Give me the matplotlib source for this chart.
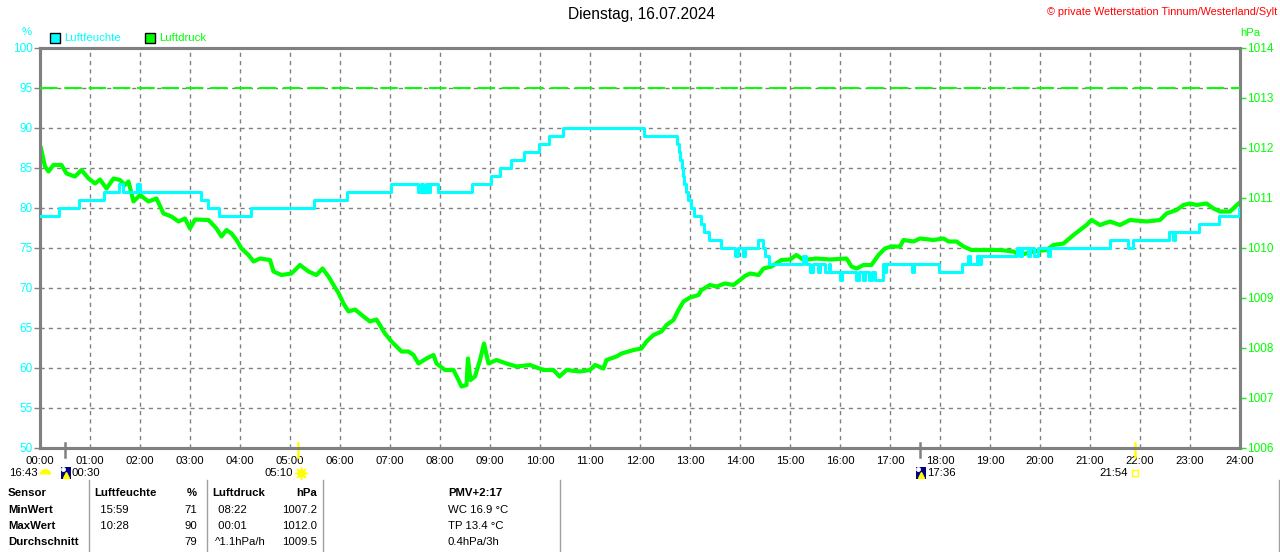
import matplotlib
matplotlib.use("Agg")
import matplotlib.pyplot as plt
import matplotlib.transforms as mtransforms
from matplotlib.lines import Line2D
from matplotlib.patches import Rectangle

plt.rcParams['font.family'] = ['Liberation Sans', 'DejaVu Sans']

# ---------------- data ----------------
title = "Dienstag, 16.07.2024"
copyright_text = "\u00a9 private Wetterstation Tinnum/Westerland/Sylt"
hours = list(range(25))
hour_labels = [f"{h:02d}:00" for h in hours]
hum_ticks = [50, 55, 60, 65, 70, 75, 80, 85, 90, 95, 100]
press_ticks = [1006, 1007, 1008, 1009, 1010, 1011, 1012, 1013, 1014]
alarm_level = 95

hum_t = [0.0, 0.38, 0.77, 1.27, 1.58, 1.66, 1.94, 2.0, 3.21, 3.35, 3.57, 4.22,
         5.47, 6.13, 7.02, 7.56, 7.62, 7.66, 7.72, 7.76, 7.80, 7.96, 8.63,
         9.03, 9.20, 9.41, 9.67, 9.97, 10.17, 10.45, 12.07, 12.74, 12.77,
         12.80, 12.83, 12.85, 12.88, 12.92, 12.96, 13.02, 13.08, 13.22, 13.28,
         13.38, 13.62, 13.90, 13.95, 14.05, 14.10, 14.35, 14.45, 14.50, 14.58,
         15.26, 15.32, 15.40, 15.45, 15.55, 15.60, 15.70, 15.78, 15.80, 16.00,
         16.04, 16.33, 16.37, 16.45, 16.50, 16.58, 16.63, 16.70, 16.85, 16.88,
         16.92, 17.07, 17.43, 17.48, 17.97, 18.43, 18.55, 18.60, 18.73, 18.78,
         18.83, 19.53, 19.60, 19.65, 19.75, 19.80, 19.88, 19.95, 20.15, 20.20,
         21.40, 21.75, 21.85, 22.57, 22.65, 22.70, 23.17, 23.57, 23.97, 24.0]
hum_v = [79, 80, 81, 82, 83, 82, 83, 82, 81, 80, 79, 80,
         81, 82, 83, 82, 83, 82, 83, 82, 83, 82, 83,
         84, 85, 86, 87, 88, 89, 90, 89, 88, 87,
         86, 85, 84, 83, 82, 81, 80, 79, 78, 77,
         76, 75, 74, 75, 74, 75, 76, 75, 74, 73,
         74, 73, 72, 73, 72, 73, 72, 73, 72, 71,
         72, 71, 72, 71, 72, 71, 72, 71, 73, 72,
         73, 73, 72, 73, 72, 73, 74, 73, 74, 73,
         74, 75, 74, 75, 74, 75, 74, 75, 74, 75,
         76, 75, 76, 77, 76, 77, 78, 79, 80, 80]

press_t = [0.02, 0.07, 0.10, 0.17, 0.27, 0.43, 0.53, 0.70, 0.83, 0.97, 1.10,
           1.20, 1.33, 1.47, 1.60, 1.70, 1.77, 1.87, 2.00, 2.17, 2.33, 2.47,
           2.63, 2.77, 2.90, 3.00, 3.10, 3.37, 3.53, 3.63, 3.73, 3.83, 3.93,
           4.03, 4.17, 4.27, 4.40, 4.60, 4.67, 4.83, 5.03, 5.20, 5.37, 5.53,
           5.65, 5.77, 5.87, 5.97, 6.07, 6.17, 6.30, 6.47, 6.60, 6.73, 6.90,
           7.03, 7.23, 7.37, 7.47, 7.57, 7.73, 7.87, 7.93, 8.10, 8.27, 8.37,
           8.43, 8.53, 8.56, 8.61, 8.70, 8.80, 8.88, 8.97, 9.13, 9.33, 9.53,
           9.80, 10.07, 10.27, 10.39, 10.53, 10.80, 11.00, 11.10, 11.27, 11.33,
           11.53, 11.63, 11.87, 12.03, 12.13, 12.27, 12.43, 12.53, 12.67, 12.77,
           12.87, 13.00, 13.17, 13.23, 13.40, 13.53, 13.70, 13.87, 14.00, 14.10,
           14.20, 14.37, 14.47, 14.63, 14.83, 15.00, 15.13, 15.27, 15.53, 15.80,
           16.13, 16.23, 16.33, 16.47, 16.63, 16.77, 16.90, 17.03, 17.20, 17.27,
           17.47, 17.60, 17.87, 18.07, 18.17, 18.33, 18.47, 18.63, 18.93, 19.20,
           19.47, 19.60, 19.87, 20.13, 20.27, 20.47, 20.67, 20.80, 20.93, 21.03,
           21.20, 21.40, 21.60, 21.80, 22.13, 22.40, 22.53, 22.73, 22.87, 23.00,
           23.13, 23.33, 23.47, 23.60, 23.80, 23.97]
press_v = [1011.99, 1011.76, 1011.63, 1011.53, 1011.66, 1011.66, 1011.49, 1011.43,
           1011.56, 1011.39, 1011.29, 1011.37, 1011.19, 1011.39, 1011.36, 1011.26,
           1011.33, 1010.93, 1011.06, 1010.93, 1010.99, 1010.69, 1010.63, 1010.53,
           1010.59, 1010.39, 1010.57, 1010.56, 1010.39, 1010.23, 1010.36, 1010.29,
           1010.16, 1009.99, 1009.86, 1009.73, 1009.79, 1009.76, 1009.53, 1009.46,
           1009.49, 1009.66, 1009.53, 1009.46, 1009.59, 1009.43, 1009.26, 1009.10,
           1008.89, 1008.73, 1008.77, 1008.63, 1008.53, 1008.57, 1008.29, 1008.13,
           1007.93, 1007.93, 1007.86, 1007.69, 1007.79, 1007.86, 1007.69, 1007.56,
           1007.56, 1007.36, 1007.23, 1007.26, 1007.79, 1007.36, 1007.43, 1007.76,
           1008.09, 1007.69, 1007.76, 1007.69, 1007.63, 1007.66, 1007.56, 1007.56,
           1007.43, 1007.56, 1007.53, 1007.56, 1007.66, 1007.59, 1007.76, 1007.83,
           1007.89, 1007.96, 1007.99, 1008.13, 1008.26, 1008.33, 1008.46, 1008.56,
           1008.76, 1008.93, 1009.01, 1009.06, 1009.16, 1009.26, 1009.23, 1009.29,
           1009.26, 1009.36, 1009.44, 1009.49, 1009.46, 1009.59, 1009.63, 1009.76,
           1009.77, 1009.86, 1009.76, 1009.79, 1009.77, 1009.79, 1009.63, 1009.59,
           1009.66, 1009.66, 1009.86, 1009.99, 1010.03, 1010.03, 1010.16, 1010.13,
           1010.19, 1010.16, 1010.19, 1010.13, 1010.13, 1010.03, 1009.96, 1009.96,
           1009.96, 1009.93, 1009.86, 1009.93, 1009.96, 1010.06, 1010.09, 1010.26,
           1010.36, 1010.46, 1010.56, 1010.46, 1010.53, 1010.46, 1010.56, 1010.53,
           1010.56, 1010.69, 1010.76, 1010.86, 1010.89, 1010.86, 1010.89, 1010.79,
           1010.73, 1010.73, 1010.89]

# astronomical events below the axis
event_times = [0.5, 5.1667, 17.6, 21.9]
event_labels = ["00:30", "05:10", "17:36", "21:54"]
event_kinds = ["moon", "sunrise", "moon", "sunset"]
prev_label = "16:43"

# statistics table
row_labels = ["Sensor", "MinWert", "MaxWert", "Durchschnitt"]
hum_header = ["Luftfeuchte", "%"]
hum_times = ["  15:59", "  10:28", ""]
hum_vals = ["71", "90", "79"]
press_header = ["Luftdruck", "hPa"]
press_times = [" 08:22", " 00:01", "^1.1hPa/h"]
press_vals = ["1007.2", "1012.0", "1009.5"]
extra_header = "PMV+2:17"
extra_vals = ["WC 16.9 \u00b0C", "TP 13.4 \u00b0C", "0.4hPa/3h"]

# ---------------- styling ----------------
W, H = 1280, 552
CYAN = "#00FFFF"
GREEN = "#00FF00"
GRAY = "#808080"
FS = 8.2


def fx(px):
    return px / W


def fy(py):
    return 1 - py / H


fig = plt.figure(figsize=(W / 100, H / 100), dpi=100)
fig.patch.set_facecolor("white")
ax = fig.add_axes([fx(40), fy(448), 1200 / W, 400 / H])
ax2 = ax.twinx()
ax3 = ax.twinx()
ax.set_zorder(1)
ax2.set_zorder(2)
ax3.set_zorder(3)
ax2.patch.set_visible(False)
ax3.patch.set_visible(False)

ax.set_xlim(0, 24)
ax.set_ylim(50, 100)
ax2.set_ylim(1006, 1014)
ax3.set_ylim(50, 100)

ax.set_xticks(hours)
ax.set_xticklabels(hour_labels)
ax.set_yticks(hum_ticks)
ax.set_yticklabels([str(v) for v in hum_ticks])
ax2.set_yticks(press_ticks)
ax2.set_yticklabels([str(v) for v in press_ticks])
ax3.axis("off")

ax.grid(True, color=GRAY, linestyle=(0, (3, 3)), linewidth=1.0)
ax.tick_params(axis="x", length=0, labelsize=FS, pad=6, labelcolor="black")
ax.tick_params(axis="y", length=4, width=1, color=GRAY, labelcolor=CYAN,
               labelsize=FS + 0.3, pad=1)
ax2.tick_params(axis="y", length=4, width=1, color=GREEN, labelcolor=GREEN,
                labelsize=FS + 0.3, pad=1)
for a in (ax, ax2):
    for s in a.spines.values():
        s.set_color(GRAY)
        s.set_linewidth(2.2)

# data lines
ax2.plot(press_t, press_v, color=GREEN, lw=3.0, solid_joinstyle="round")
ax3.axhline(alarm_level, color=GREEN, lw=1.4, linestyle=(0, (9, 3.5)))
ax3.plot(hum_t, hum_v, drawstyle="steps-post", color=CYAN, lw=2.2)

# axis unit labels
fig.text(fx(27), fy(32), "%", color=CYAN, fontsize=FS, ha="center", va="center")
fig.text(fx(1250), fy(33), "hPa", color=GREEN, fontsize=FS, ha="center", va="center")

# legend
fig.patches.append(Rectangle((fx(50), fy(43)), 10 / W, 10 / H, facecolor=CYAN,
                             edgecolor="black", lw=1, transform=fig.transFigure))
fig.text(fx(64), fy(38), "Luftfeuchte", color=CYAN, fontsize=FS, va="center")
fig.patches.append(Rectangle((fx(145), fy(43)), 10 / W, 10 / H, facecolor=GREEN,
                             edgecolor="black", lw=1, transform=fig.transFigure))
fig.text(fx(159), fy(38), "Luftdruck", color=GREEN, fontsize=FS, va="center")

# titles
fig.text(fx(642), fy(15), title, fontsize=11.2, ha="center", va="center")
fig.text(fx(1277), fy(12), copyright_text, fontsize=7.8, color="red",
         ha="right", va="center")

# events
bt = mtransforms.blended_transform_factory(ax.transData, fig.transFigure)
row_y = fy(473)
for t, lab, kind in zip(event_times, event_labels, event_kinds):
    col = GRAY if kind == "moon" else "#FFFF00"
    ax.plot([t, t], [fy(443), fy(457)], transform=bt, color=col, lw=1.8,
            clip_on=False, zorder=5)
    if kind == "moon":
        ax.add_patch(Rectangle((t - 0.09, fy(479)), 0.2, 12 / H, transform=bt,
                               facecolor="#000080", edgecolor="none",
                               clip_on=False, zorder=5))
        ax.plot([t + 0.02], [fy(475)], transform=bt, marker="^", ms=4,
                color="#FFFF00", clip_on=False, zorder=6)
        ax.plot([t - 0.04], [fy(469)], transform=bt, marker="o", ms=2.5,
                color="white", clip_on=False, zorder=6)
        ax.annotate(lab, (t, row_y), xycoords=bt, xytext=(5, 0),
                    textcoords="offset points", fontsize=FS, ha="left",
                    va="center", annotation_clip=False)
    elif kind == "sunrise":
        ax.plot([t + 0.05], [row_y], transform=bt, marker=(8, 2, 0), ms=9,
                mew=1, color="#FFFF00", clip_on=False, zorder=5)
        ax.plot([t + 0.05], [row_y], transform=bt, marker="o", ms=5,
                color="#FFFF00", clip_on=False, zorder=6)
        ax.annotate(lab, (t, row_y), xycoords=bt, xytext=(-4, 0),
                    textcoords="offset points", fontsize=FS, ha="right",
                    va="center", annotation_clip=False)
    else:
        ax.plot([t], [row_y], transform=bt, marker="s", ms=4, mfc="none",
                mec="#FFFF00", mew=1, clip_on=False, zorder=5)
        ax.annotate(lab, (t, row_y), xycoords=bt, xytext=(-5, 0),
                    textcoords="offset points", fontsize=FS, ha="right",
                    va="center", annotation_clip=False)
# previous-day marker at chart start
ax.plot([0.09], [fy(474)], transform=bt, marker="o", ms=8, fillstyle="top",
        mfc="#FFFF00", mfcalt="none", mec="none", clip_on=False, zorder=5)
ax.annotate(prev_label, (0.0, row_y), xycoords=bt, xytext=(-1.5, 0),
            textcoords="offset points", fontsize=FS, ha="right", va="center",
            annotation_clip=False)

# table separators
for sx in (89, 207, 323, 560, 1279):
    fig.add_artist(Line2D([fx(sx), fx(sx)], [fy(480), fy(552)], color="#A0A0A0",
                          lw=1, transform=fig.transFigure))

rows_y = [493, 510, 526, 542]
for i, lab in enumerate(row_labels):
    fig.text(fx(8), fy(rows_y[i]), lab, fontsize=FS, fontweight="bold", va="center")
fig.text(fx(94), fy(rows_y[0]), hum_header[0], fontsize=FS, fontweight="bold", va="center")
fig.text(fx(197), fy(rows_y[0]), hum_header[1], fontsize=FS, fontweight="bold",
         va="center", ha="right")
fig.text(fx(212), fy(rows_y[0]), press_header[0], fontsize=FS, fontweight="bold", va="center")
fig.text(fx(317), fy(rows_y[0]), press_header[1], fontsize=FS, fontweight="bold",
         va="center", ha="right")
fig.text(fx(448), fy(rows_y[0]), extra_header, fontsize=FS, fontweight="bold", va="center")
for i in range(3):
    y = fy(rows_y[i + 1])
    fig.text(fx(94), y, hum_times[i], fontsize=FS, va="center")
    fig.text(fx(197), y, hum_vals[i], fontsize=FS, va="center", ha="right")
    fig.text(fx(215), y, press_times[i], fontsize=FS, va="center")
    fig.text(fx(317), y, press_vals[i], fontsize=FS, va="center", ha="right")
    fig.text(fx(448), y, extra_vals[i], fontsize=FS, va="center")

fig.savefig("out.png", dpi=100)
